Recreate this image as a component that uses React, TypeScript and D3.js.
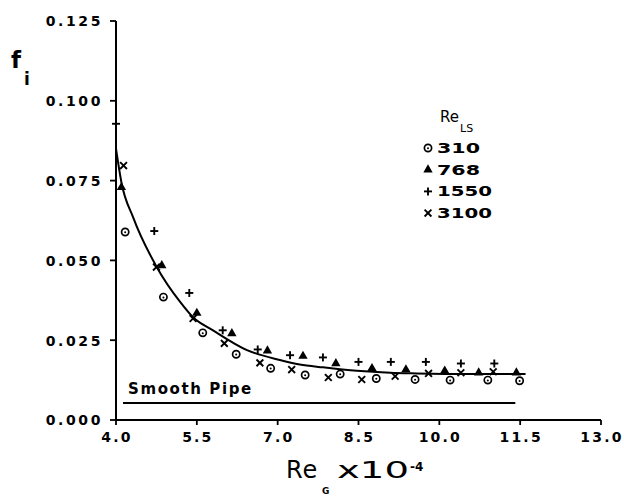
import React from "react";
import * as d3 from "d3";

// Re_G (x10^-4) and interfacial friction factor f_i for each Re_LS
const re310 = [4.17, 4.88, 5.61, 6.23, 6.87, 7.51, 8.16, 8.83, 9.55, 10.2, 10.9, 11.49];
const f310 = [0.0589, 0.0385, 0.0273, 0.0206, 0.0162, 0.0141, 0.0144, 0.013, 0.0127, 0.0125, 0.0125, 0.0123];
const re768 = [4.1, 4.85, 5.5, 6.15, 6.81, 7.47, 8.08, 8.75, 9.38, 10.1, 10.73, 11.43];
const f768 = [0.0729, 0.0484, 0.0335, 0.0271, 0.0217, 0.02, 0.0177, 0.0162, 0.0158, 0.0154, 0.0148, 0.0148];
const re1550 = [4.0, 4.71, 5.36, 5.98, 6.63, 7.23, 7.84, 8.5, 9.1, 9.75, 10.4, 11.02];
const f1550 = [0.0928, 0.0592, 0.0398, 0.0281, 0.0221, 0.0203, 0.0196, 0.0182, 0.0182, 0.0182, 0.0177, 0.0177];
const re3100 = [4.14, 4.75, 5.43, 6.01, 6.67, 7.26, 7.94, 8.56, 9.18, 9.8, 10.4, 11.0];
const f3100 = [0.0797, 0.0479, 0.0318, 0.024, 0.0179, 0.0158, 0.0133, 0.0127, 0.0137, 0.0146, 0.0148, 0.0151];

// fitted curve
const fitRe = [4.0, 4.1, 4.32, 4.76, 5.19, 5.43, 5.8, 6.43, 7.04, 7.41, 7.84, 8.47, 9.09, 9.58, 10.5, 11.6];
const fitF = [0.085, 0.0745, 0.0634, 0.0478, 0.037, 0.0322, 0.0281, 0.0219, 0.0188, 0.0174, 0.0165, 0.0154, 0.0148, 0.0146, 0.0144, 0.0144];

// smooth pipe line
const smoothRe = [4.13, 11.41];
const smoothF = [0.0053, 0.0053];

const xTicks = [4.0, 5.5, 7.0, 8.5, 10.0, 11.5, 13.0];
const yTicks = [0, 0.025, 0.05, 0.075, 0.1, 0.125];
const legendLabels = ["310", "768", "1550", "3100"];
const legendKinds = ["circle", "triangle", "plus", "cross"];

const FONT = "'DejaVu Sans', sans-serif";

function Marker({ kind, x, y }: { kind: string; x: number; y: number }) {
  if (kind === "circle") {
    return (
      <g>
        <circle cx={x} cy={y} r={3.6} fill="white" stroke="black" strokeWidth={1.7} />
        <circle cx={x} cy={y + 0.3} r={1} fill="black" />
      </g>
    );
  }
  if (kind === "triangle") {
    const p = d3.symbol().type(d3.symbolTriangle).size(38)();
    return <path d={p || ""} transform={`translate(${x},${y})`} fill="black" />;
  }
  if (kind === "plus") {
    const s = 4;
    return (
      <g stroke="black" strokeWidth={1.9}>
        <line x1={x - s} y1={y} x2={x + s} y2={y} />
        <line x1={x} y1={y - s} x2={x} y2={y + s} />
      </g>
    );
  }
  const s = 3.4;
  return (
    <g stroke="black" strokeWidth={1.9}>
      <line x1={x - s} y1={y - s} x2={x + s} y2={y + s} />
      <line x1={x - s} y1={y + s} x2={x + s} y2={y - s} />
    </g>
  );
}

export default function App() {
  const x = d3.scaleLinear().domain([4, 13]).range([116, 601]);
  const y = d3.scaleLinear().domain([0, 0.125]).range([420, 21]);

  const series = [
    { kind: "circle", re: re310, f: f310 },
    { kind: "triangle", re: re768, f: f768 },
    { kind: "plus", re: re1550, f: f1550 },
    { kind: "cross", re: re3100, f: f3100 },
  ];

  const fitLine = d3
    .line<number>()
    .x((d, i) => x(fitRe[i]))
    .y((d) => y(d))
    .curve(d3.curveMonotoneX)(fitF);

  const smoothLine = d3
    .line<number>()
    .x((d, i) => x(smoothRe[i]))
    .y((d) => y(d))(smoothF);

  const yFmt = d3.format(".3f");
  const xFmt = d3.format(".1f");

  return (
    <svg
      width={624}
      height={497}
      style={{ position: "absolute", left: 0, top: 0, background: "white" }}
      fontFamily={FONT}
    >
      <rect width={624} height={497} fill="white" />
      {/* axes */}
      <line x1={x(4)} y1={y(0)} x2={x(4)} y2={y(0.125)} stroke="black" strokeWidth={2} />
      <line x1={x(4) - 1} y1={y(0)} x2={x(13)} y2={y(0)} stroke="black" strokeWidth={2} />
      {yTicks.map((t) => (
        <g key={"y" + t}>
          <line x1={x(4) - 6} x2={x(4)} y1={y(t)} y2={y(t)} stroke="black" strokeWidth={1.8} />
          <text
            x={103}
            y={y(t) + 5.3}
            textAnchor="end"
            fontSize={14}
            fontWeight="bold"
            letterSpacing={2.6}
          >
            {yFmt(t)}
          </text>
        </g>
      ))}
      {xTicks.map((t) => (
        <g key={"x" + t}>
          <line x1={x(t)} x2={x(t)} y1={y(0)} y2={y(0) + 5} stroke="black" strokeWidth={1.8} />
          <text
            x={x(t) + 1}
            y={442}
            textAnchor="middle"
            fontSize={14}
            fontWeight="bold"
            letterSpacing={2.2}
          >
            {xFmt(t)}
          </text>
        </g>
      ))}

      {/* axis titles */}
      <text x={11} y={68} fontSize={23} fontWeight="bold">f</text>
      <text x={24} y={85} fontSize={17} fontWeight="bold">i</text>

      <text x={286} y={478} fontSize={24} letterSpacing={1}>Re</text>
      <text x={322} y={494} fontSize={9} fontWeight="bold">G</text>
      <text x={337} y={478} fontSize={23} textLength={72} lengthAdjust="spacingAndGlyphs">x10</text>
      <text x={410} y={471} fontSize={12} fontWeight="bold">-4</text>

      {/* smooth pipe */}
      <path d={smoothLine || ""} fill="none" stroke="black" strokeWidth={2} />
      <text x={128} y={394} fontSize={15} fontWeight="bold" letterSpacing={1.6}>
        Smooth  Pipe
      </text>

      {/* fit curve */}
      <path d={fitLine || ""} fill="none" stroke="black" strokeWidth={2} />

      {/* data */}
      {series.map((s) =>
        s.re.map((r, i) => (
          <Marker key={s.kind + i} kind={s.kind} x={x(r)} y={y(s.f[i])} />
        ))
      )}

      {/* legend */}
      <text x={440} y={122} fontSize={15}>Re</text>
      <text x={460} y={132} fontSize={11}>LS</text>
      {legendLabels.map((l, i) => (
        <g key={l}>
          <Marker kind={legendKinds[i]} x={428} y={148 + i * 21.7} />
          <text
            x={437}
            y={148 + i * 21.7 + 5}
            fontSize={14}
            fontWeight="bold"
            textLength={l.length === 3 ? 43 : 55}
            lengthAdjust="spacingAndGlyphs"
          >
            {l}
          </text>
        </g>
      ))}
    </svg>
  );
}
